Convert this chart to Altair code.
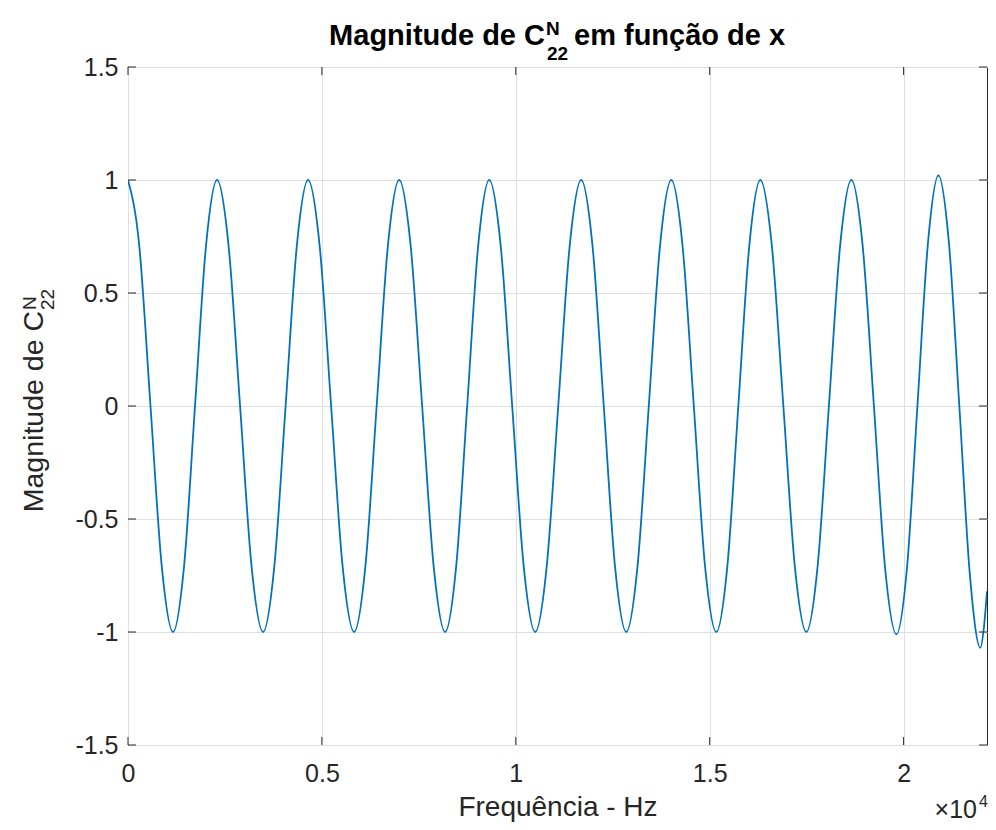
import altair as alt
import pandas as pd

# ---- data ----
freq_hz = [
    0, 290, 580, 871,
    1161, 1445, 1728, 2012,
    2296, 2593, 2890, 3186,
    3483, 3773, 4064, 4354,
    4644, 4941, 5238, 5534,
    5831, 6121, 6412, 6702,
    6992, 7288, 7585, 7882,
    8178, 8462, 8746, 9030,
    9314, 9610, 9907, 10204,
    10500, 10797, 11094, 11390,
    11687, 11977, 12268, 12558,
    12848, 13138, 13429, 13719,
    14009, 14299, 14590, 14880,
    15170, 15454, 15738, 16021,
    16305, 16602, 16899, 17195,
    17492, 17782, 18073, 18363,
    18653, 18943, 19234, 19524,
    19814, 20085, 20356, 20627,
    20898, 21169, 21440, 21710,
    21981, 22070, 22150,
]
magnitude = [
    1.00, 0.71, 0.00, -0.71,
    -1.00, -0.71, 0.00, 0.71,
    1.00, 0.71, 0.00, -0.71,
    -1.00, -0.71, 0.00, 0.71,
    1.00, 0.71, 0.00, -0.71,
    -1.00, -0.71, 0.00, 0.71,
    1.00, 0.71, 0.00, -0.71,
    -1.00, -0.71, 0.00, 0.71,
    1.00, 0.71, 0.00, -0.71,
    -1.00, -0.71, 0.00, 0.71,
    1.00, 0.71, 0.00, -0.71,
    -1.00, -0.71, 0.00, 0.71,
    1.00, 0.71, 0.00, -0.71,
    -1.00, -0.71, 0.00, 0.71,
    1.00, 0.71, 0.00, -0.71,
    -1.00, -0.71, 0.00, 0.71,
    1.00, 0.71, 0.00, -0.72,
    -1.01, -0.72, 0.00, 0.72,
    1.02, 0.72, -0.01, -0.75,
    -1.07, -0.98, -0.82,
]
x_tick_values = [0, 5000, 10000, 15000, 20000]
y_tick_values = [-1.5, -1, -0.5, 0, 0.5, 1, 1.5]

x_label = "Frequência - Hz"
title_main = "Magnitude de C"
title_sup = "N"
title_sub = "22"
title_rest = "em função de x"
ylabel_main = "Magnitude de C"
exp_base = "×10"
exp_power = "4"

# ---- layout / style ----
W, H = 859, 678
FONT = "Liberation Sans"
INK = "#262626"
GRID = "#dfdfdf"
LINE = "#0072BD"
TICK = 8

xscale = alt.Scale(domain=[0, 22150], nice=False, zero=False)
yscale = alt.Scale(domain=[-1.5, 1.5], nice=False, zero=False)

xaxis = alt.Axis(
    values=x_tick_values, labelExpr="'' + (datum.value / 10000)",
    ticks=False, domain=False, grid=True, gridColor=GRID, gridWidth=1,
    labelFont=FONT, labelFontSize=25, labelColor=INK, labelPadding=16,
    labelFlush=False, labelOverlap=False,
    titleFont=FONT, titleFontSize=28, titleFontWeight="normal",
    titleColor=INK, titleY=70, titleBaseline="alphabetic")
yaxis = alt.Axis(
    values=y_tick_values, labelExpr="'' + datum.value",
    ticks=False, domain=False, grid=True, gridColor=GRID, gridWidth=1,
    labelFont=FONT, labelFontSize=25, labelColor=INK, labelPadding=10,
    labelFlush=False, labelOverlap=False)

df = pd.DataFrame({"f": freq_hz, "m": magnitude})
xt = pd.DataFrame({"v": x_tick_values})
yt = pd.DataFrame({"v": y_tick_values})
one = pd.DataFrame({"k": [0]})

line = alt.Chart(df).mark_line(
    color=LINE, strokeWidth=1.8, interpolate="monotone", clip=True
).encode(
    x=alt.X("f:Q", scale=xscale, axis=xaxis, title=x_label),
    y=alt.Y("m:Q", scale=yscale, axis=yaxis, title=""),
)

def rule_x(y0, y1):
    return alt.Chart(xt).mark_rule(color=INK, strokeWidth=1).encode(
        x=alt.X("v:Q", scale=xscale, axis=xaxis, title=x_label),
        y=alt.value(y0), y2=alt.value(y1))

def rule_y(x0, x1):
    return alt.Chart(yt).mark_rule(color=INK, strokeWidth=1).encode(
        y=alt.Y("v:Q", scale=yscale, axis=yaxis, title=""),
        x=alt.value(x0), x2=alt.value(x1))

def txt(text, x, y, size, weight="normal", align="left", angle=0, color="#000000"):
    return alt.Chart(one).mark_text(
        text=text, font=FONT, fontSize=size, fontWeight=weight, align=align,
        baseline="alphabetic", angle=angle, color=color
    ).encode(x=alt.value(x), y=alt.value(y))

layers = [
    line,
    rule_x(H, H - TICK), rule_x(0, TICK),
    rule_y(0, TICK), rule_y(W, W - TICK),
    # title with super/subscript
    txt(title_main, 417, -22, 29, "bold", "right"),
    txt(title_sup, 418, -32, 19, "bold", "left"),
    txt(title_sub, 419, -7, 19, "bold", "left"),
    txt(title_rest, 446, -22, 29, "bold", "left"),
    # rotated y label
    txt(ylabel_main, -85, 244, 28.5, "normal", "right", 270, INK),
    txt(title_sup, -92, 243, 19, "normal", "left", 270, INK),
    txt(title_sub, -74, 243, 19, "normal", "left", 270, INK),
    # exponent
    txt(exp_base, 849, 751, 25, "normal", "right", 0, INK),
    txt(exp_power, 851, 740, 16, "normal", "left", 0, INK),
]

chart = alt.layer(*layers).properties(
    width=W, height=H,
    autosize=alt.AutoSizeParams(type="none"),
    padding={"left": 120, "top": 59, "right": 1, "bottom": 77},
    background="white",
).configure_view(stroke=INK, strokeWidth=1)

chart.save("out.html", embed_options={"renderer": "svg", "actions": False})
